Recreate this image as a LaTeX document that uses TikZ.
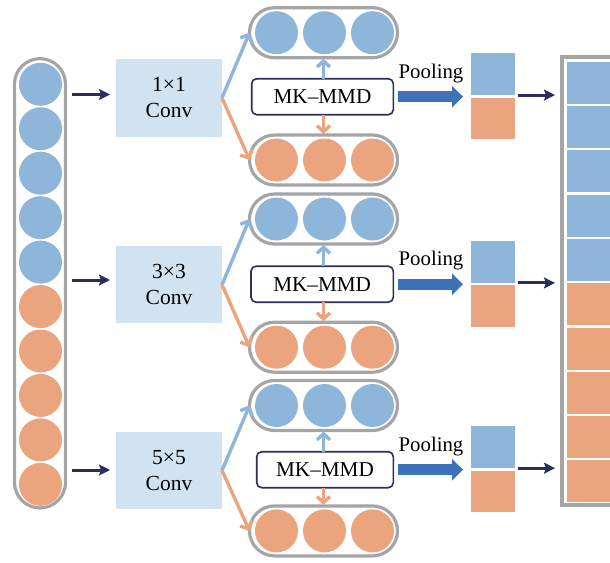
\documentclass[tikz,border=0pt]{standalone}
\usepackage{fontspec}
\setmainfont{Liberation Serif}
\usetikzlibrary{arrows.meta}
\definecolor{cblue}{HTML}{8EB5DA}
\definecolor{corange}{HTML}{EAA57E}
\definecolor{convfill}{HTML}{D1E3F1}
\definecolor{navy}{HTML}{2B2E5C}
\definecolor{poolblue}{HTML}{3E72B8}
\definecolor{pillgray}{HTML}{A5A5A8}
\begin{document}
\begin{tikzpicture}[x=1pt,y=-1pt,
  every node/.style={inner sep=0pt, outer sep=0pt},
  ball/.style={circle, minimum size=43pt},
  bball/.style={ball, fill=cblue},
  oball/.style={ball, fill=corange},
  pill/.style={draw=pillgray, line width=3.2pt, rounded corners=25pt, minimum width=148pt, minimum height=50pt},
  convbox/.style={fill=convfill, minimum width=106pt, minimum height=77.5pt, align=center, font=\fontsize{21.5}{26}\selectfont},
  mmdbox/.style={draw=navy, line width=1.6pt, fill=white, rounded corners=5pt, minimum height=36pt, font=\fontsize{21.2}{24}\selectfont},
  sqbox/.style={minimum width=44pt},
  cell/.style={minimum width=50pt, minimum height=42pt, anchor=north west},
  navyarrow/.style={draw=navy, line width=3pt, -{Stealth[length=11pt,width=11pt,inset=2pt]}},
  barb/.style={line width=3.4pt, -{Straight Barb[length=6pt,width=13pt]}},
  poolarrow/.style={draw=poolblue, line width=11pt, -{Triangle[length=11pt,width=21pt]}},
  lbl/.style={font=\fontsize{20.8}{24}\selectfont, anchor=base}
]
\useasboundingbox (0,0) rectangle (610,562);
\clip (0,0) rectangle (610,562);

% left column
\node[draw=pillgray, line width=3.2pt, rounded corners=25.5pt, minimum width=51pt, minimum height=449.3pt] (lcol) at (40,283.3) {};
\foreach \i in {1,...,5} \node[bball] (l\i) at (40.5,{84.3+44.45*(\i-1)}) {};
\foreach \i in {6,...,10} \node[oball] (l\i) at (40.5,{84.3+44.45*(\i-1)}) {};

% right column
\node[draw=pillgray, line width=4pt, minimum width=100pt, minimum height=447.7pt, anchor=north west] (rcol) at (562,57) {};
\foreach \i in {1,...,5} \node[cell, fill=cblue] (rc\i) at (566.7,{61.7+44.3*(\i-1)}) {};
\foreach \i in {6,...,10} \node[cell, fill=corange] (rc\i) at (566.7,{61.7+44.3*(\i-1)}) {};

\foreach \r/\k/\cc/\la/\tp/\bp/\mk/\mkw/\sq in {
  1/1×1/97.9/94.5/32.7/160/96.7/141.6pt/96.3,
  2/3×3/284.7/280/219/347.2/284.2/142.3pt/284.2,
  3/5×5/470.5/470/405.5/530.9/469.7/136.6pt/469.4}{
  \node[convbox] (conv\r) at (169,\cc) {\k\\Conv};
  \coordinate (la\r) at (0,\la);
  \draw[navyarrow, shorten <=6.5pt, shorten >=6pt] (lcol.east |- la\r) -- (conv\r.west |- la\r);
  % pills
  \node[pill] (tp\r) at (323.5,\tp) {};
  \node[bball] (tpa\r) at (276.5,\tp) {};
  \node[bball] (tpb\r) at (324.5,\tp) {};
  \node[bball] (tpc\r) at (372.5,\tp) {};
  \node[pill] (bp\r) at (323.5,\bp) {};
  \node[oball] (bpa\r) at (276.5,\bp) {};
  \node[oball] (bpb\r) at (324.5,\bp) {};
  \node[oball] (bpc\r) at (372.5,\bp) {};
  % MK-MMD
  \node[mmdbox, minimum width=\mkw, anchor=east] (mk\r) at (393.3,\mk) {MK–MMD};
  \draw[barb, cblue, shorten >=1pt] (tp\r.south |- mk\r.north) -- (tp\r.south);
  \draw[barb, corange, shorten >=1pt] (bp\r.north |- mk\r.south) -- (bp\r.north);
  \draw[barb, cblue] (conv\r.east) -- (tp\r.west);
  \draw[barb, corange] (conv\r.east) -- (bp\r.west);
  % pooling
  \node[lbl] (pl\r) at (431,{\mk-18.7}) {Pooling};
  \node[sqbox, minimum height=42.3pt, fill=cblue, anchor=south west] (sqb\r) at (471,{\sq-1.25}) {};
  \node[sqbox, minimum height=41.6pt, fill=corange, anchor=north west] (sqo\r) at (471,{\sq+1.25}) {};
  \draw[poolarrow, shorten <=4.7pt, shorten >=8pt] (mk\r.east) -- (sqb\r.west |- mk\r.east);
  \draw[navyarrow, shorten <=2.5pt, shorten >=7pt] (sqb\r.south east) -- (rcol.west |- sqb\r.south east);
}
\end{tikzpicture}
\end{document}
